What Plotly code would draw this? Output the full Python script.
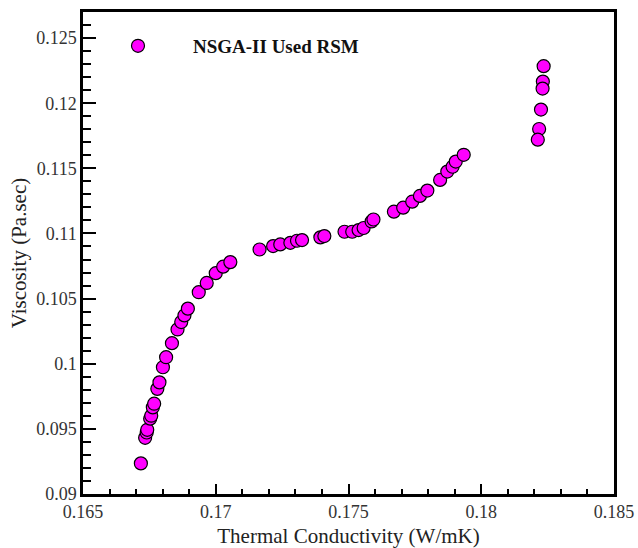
import plotly.graph_objects as go

# Thermal conductivity (W/mK)
thermal_k = [0.16718, 0.16734, 0.16740, 0.16742, 0.16753, 0.16757, 0.16763, 0.16768,
             0.16780, 0.16788, 0.16801, 0.16813, 0.16835, 0.16856, 0.16870, 0.16882,
             0.16895, 0.16936, 0.16966, 0.17000, 0.17028, 0.17055, 0.17165, 0.17216,
             0.17243, 0.17281, 0.17306, 0.17325, 0.17394, 0.17409, 0.17485, 0.17514,
             0.17538, 0.17557, 0.17587, 0.17594, 0.17671, 0.17706, 0.17740, 0.17769,
             0.17797, 0.17845, 0.17872, 0.17892, 0.17904, 0.17934, 0.18235, 0.18232,
             0.18231, 0.18225, 0.18218, 0.18213]
# Viscosity (Pa.sec)
viscosity = [0.09235, 0.09431, 0.09472, 0.09493, 0.09578, 0.09601, 0.09665, 0.09693,
             0.09807, 0.09857, 0.09973, 0.10050, 0.10158, 0.10263, 0.10320, 0.10371,
             0.10423, 0.10549, 0.10620, 0.10695, 0.10745, 0.10780, 0.10877, 0.10903,
             0.10916, 0.10928, 0.10944, 0.10949, 0.10970, 0.10980, 0.11013, 0.11013,
             0.11026, 0.11042, 0.11092, 0.11107, 0.11167, 0.11198, 0.11244, 0.11288,
             0.11329, 0.11411, 0.11475, 0.11512, 0.11552, 0.11604, 0.12284, 0.12166,
             0.12112, 0.11951, 0.11802, 0.11720]

series_name = "NSGA-II Used RSM"
x_ticks = [0.165, 0.17, 0.175, 0.18, 0.185]
y_ticks = [0.09, 0.095, 0.1, 0.105, 0.11, 0.115, 0.12, 0.125]

serif = "Liberation Serif, Times New Roman, serif"
tick_font = dict(family=serif, size=18, color="#333333")
title_font = dict(family=serif, size=21, color="#222222")

fig = go.Figure()
fig.add_trace(go.Scatter(
    x=thermal_k, y=viscosity, mode="markers", name=series_name,
    marker=dict(symbol="circle", size=13, color="#ff00ff",
                line=dict(color="black", width=1.2)),
    showlegend=True,
))

fig.update_layout(
    width=638, height=548,
    margin=dict(l=83, r=24, t=12, b=54),
    plot_bgcolor="white", paper_bgcolor="white",
    font=dict(family=serif, color="#222222", size=18),
    showlegend=True,
    legend=dict(x=0.0, y=0.969, xanchor="left", yanchor="top",
                bgcolor="rgba(0,0,0,0)", itemwidth=100,
                font=dict(family=serif, size=19, color="#111111", weight="bold")),
    xaxis=dict(
        range=[0.165, 0.185], tickvals=x_ticks,
        ticktext=[f"{v:g}" for v in x_ticks],
        showgrid=False, zeroline=False, automargin=False,
        showline=True, linecolor="black", linewidth=2.5, mirror=True,
        ticks="inside", ticklen=10, tickwidth=2, tickcolor="black",
        minor=dict(dtick=0.001, ticks="inside", ticklen=5, tickwidth=1.5,
                   tickcolor="black", showgrid=False),
        title=dict(text="Thermal Conductivity (W/mK)", font=title_font, standoff=9),
        tickfont=tick_font,
    ),
    yaxis=dict(
        range=[0.09, 0.127], tickvals=y_ticks,
        ticktext=[f"{v:g}" for v in y_ticks],
        showgrid=False, zeroline=False, automargin=False,
        showline=True, linecolor="black", linewidth=2.5, mirror=True,
        ticks="inside", ticklen=13, tickwidth=2, tickcolor="black",
        minor=dict(dtick=0.001, ticks="inside", ticklen=8, tickwidth=1.5,
                   tickcolor="black", showgrid=False),
        title=dict(text="Viscosity (Pa.sec)", font=title_font, standoff=4),
        tickfont=tick_font,
    ),
)

fig.write_html("out.html")
